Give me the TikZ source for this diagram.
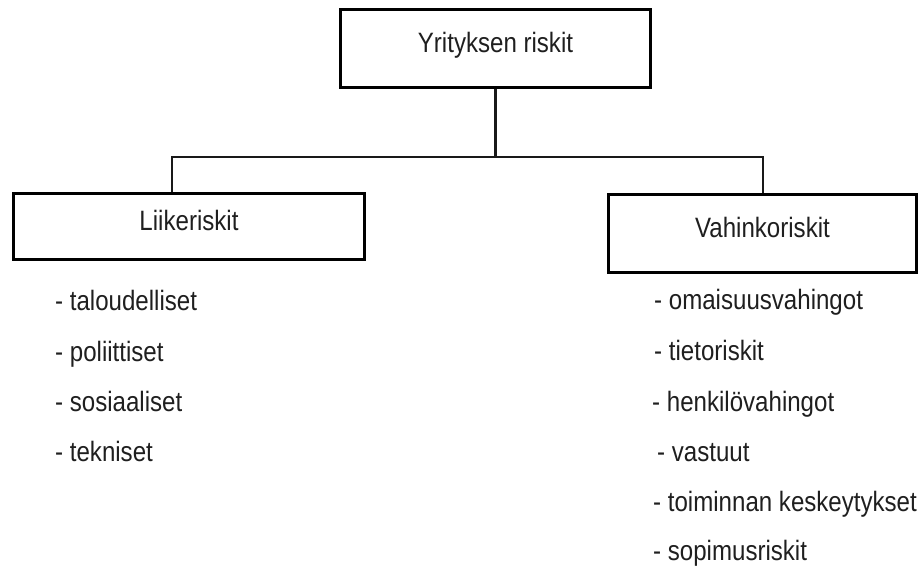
\documentclass[tikz,border=0pt]{standalone}
\usepackage{fontspec}
\usepackage{graphicx}
\setmainfont{Liberation Sans}
\newcommand{\nt}[1]{\scalebox{0.86}[1]{#1}}
\begin{document}
\begin{tikzpicture}[x=1pt,y=-1pt,
  box/.style={draw=black,line width=3pt,rectangle,inner sep=0pt,
    text height=20pt,text depth=12pt,font=\fontsize{28}{32}\selectfont,text=black!88},
  item/.style={anchor=base west,inner sep=0pt,font=\fontsize{28}{32}\selectfont,text=black!88},
  conn/.style={draw=black!90,line width=2.1pt}]
\useasboundingbox (0,0) rectangle (918,572);
\fill[white] (0,0) rectangle (918,572);
\node[box,minimum width=310pt,minimum height=78pt] (top) at (495.5,48.5) {\nt{Yrityksen riskit}};
\node[box,minimum width=351pt,minimum height=66pt] (left) at (189,226.5) {\nt{Liikeriskit}};
\node[box,minimum width=308pt,minimum height=78pt] (right) at (762.5,233.5) {\nt{Vahinkoriskit}};
\coordinate (jl) at (172,157);
\coordinate (jr) at (763,157);
\draw[conn] (top.south) -- (top.south |- jl);
\draw[conn] (jl |- left.north) -- (jl) -- (jr) -- (jr |- right.north);
\node[item] (l1) at (55,310) {\nt{- taloudelliset}};
\node[item] (l2) at (55,361) {\nt{- poliittiset}};
\node[item] (l3) at (55,411) {\nt{- sosiaaliset}};
\node[item] (l4) at (55,461) {\nt{- tekniset}};
\node[item] (r1) at (654,309) {\nt{- omaisuusvahingot}};
\node[item] (r2) at (654,360) {\nt{- tietoriskit}};
\node[item] (r3) at (652,411) {\nt{- henkilövahingot}};
\node[item] (r4) at (657,461) {\nt{- vastuut}};
\node[item] (r5) at (653,511) {\nt{- toiminnan keskeytykset}};
\node[item] (r6) at (653,560) {\nt{- sopimusriskit}};
\end{tikzpicture}
\end{document}
